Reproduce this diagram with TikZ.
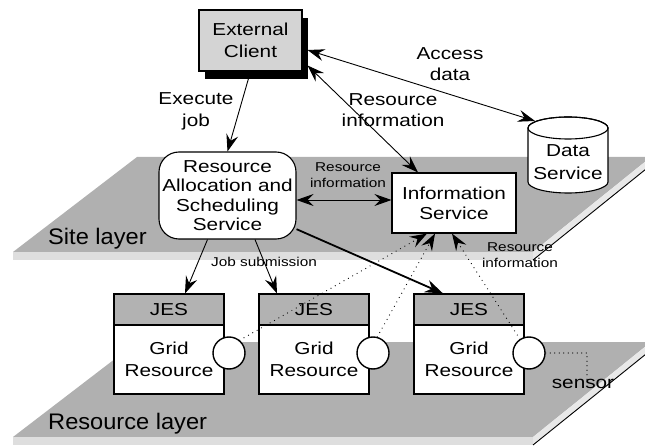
\documentclass[tikz,border=0pt]{standalone}
\usepackage{fontspec}
\setmainfont[FakeStretch=1.2]{Liberation Sans}
\newfontfamily\layerfont[FakeStretch=1.05]{Liberation Sans}
\usetikzlibrary{arrows.meta,shadows,calc}

\tikzset{
  big/.style={font=\fontsize{17.3}{21.7}\selectfont, align=center, inner sep=0pt},
  small/.style={font=\fontsize{12.8}{16.5}\selectfont, align=center, inner sep=0pt},
  layerlabel/.style={font=\layerfont\fontsize{22.5}{26}\selectfont, anchor=base west, inner sep=0pt},
  topface/.style={fill=black!31},
  frontface/.style={fill=black!13},
  sideface/.style={fill=black!9},
  edgeline/.style={line width=0.9pt},
  boxed/.style={draw, line width=1.1pt, inner sep=0pt, fill=white, big},
  jeshead/.style={draw, line width=1.1pt, inner sep=0pt, fill=black!30, big,
    minimum width=110pt, minimum height=31pt},
  jesbody/.style={draw, line width=1.1pt, inner sep=0pt, fill=white, big,
    minimum width=110pt, minimum height=69pt},
  sensorball/.style={draw, circle, line width=1.4pt, fill=white, minimum size=32pt, inner sep=0pt},
  tipS/.tip={Stealth[length=17pt,width=12pt,inset=6pt]},
  arr/.style={line width=0.9pt, -tipS},
  dualarr/.style={line width=0.9pt, tipS-tipS},
  heavyarr/.style={line width=1.8pt, -{Stealth[length=18pt,width=13pt,inset=6pt]}},
  dotarr/.style={line width=1.2pt, line cap=round, dash pattern=on 0pt off 5pt,
    -{Stealth[length=17pt,width=12pt,inset=6pt,sep=0pt]}},
  dotline/.style={line width=1.3pt, line cap=round, dash pattern=on 0pt off 4.5pt},
}

\begin{document}
\begin{tikzpicture}[x=1pt, y=-1pt]
  \clip (0,0) rectangle (645,446);

  % ---- site layer slab ----
  \fill[topface] (137,157) -- (651,157) -- (533,252) -- (13,252) -- cycle;
  \fill[frontface] (13,252) rectangle (533,260);
  \fill[sideface] (533,252) -- (651,157) -- (651,165) -- (533,260) -- cycle;
  \draw[edgeline] (533,260) -- (651,165);
  \node[layerlabel] (sitelbl) at (48,245) {Site layer};

  % ---- resource layer slab ----
  \fill[topface] (137,342) -- (651,342) -- (533,437) -- (13,437) -- cycle;
  \fill[frontface] (13,437) rectangle (533,445);
  \fill[sideface] (533,437) -- (651,342) -- (651,350) -- (533,445) -- cycle;
  \draw[edgeline] (533,445) -- (651,350);
  \node[layerlabel] (reslbl) at (48,429) {Resource layer};

  % ---- external client with drop shadow ----
  \node[draw, line width=1.1pt, fill=black!17, inner sep=0pt, big,
        minimum width=103pt, minimum height=61pt,
        drop shadow={shadow xshift=6pt, shadow yshift=-8pt, fill=black, opacity=1}]
        (client) at (250.5,40.5) {External\\Client};

  % ---- data service cylinder ----
  \filldraw[fill=white, line width=1.1pt]
    (528,128) -- (528,182) arc[start angle=180, end angle=360, x radius=40pt, y radius=11pt]
    -- (608,128) arc[start angle=0, end angle=180, x radius=40pt, y radius=11pt] -- cycle;
  \draw[line width=1.1pt] (568,128) ellipse[x radius=40pt, y radius=11pt];
  \node[font=\fontsize{17.3}{23}\selectfont, align=center, inner sep=0pt]
    (ds) at (568,162) {Data\\Service};
  \coordinate (dsin) at (535,121);

  % ---- site services ----
  \node[boxed, rounded corners=20pt, minimum width=137pt, minimum height=87pt,
        font=\fontsize{17.3}{19.3}\selectfont]
        (ras) at (227.5,195.5) {Resource\\Allocation and\\Scheduling\\Service};
  \node[boxed, minimum width=124pt, minimum height=60pt,
        font=\fontsize{17.3}{20}\selectfont]
        (info) at (454,203) {Information\\Service};

  % ---- grid resources with their job execution services ----
  \node[jeshead] (jes1) at (169,309.5) {JES};
  \node[jesbody] (gr1) at (169,359.5) {Grid\\Resource};
  \node[jeshead] (jes2) at (314,309.5) {JES};
  \node[jesbody] (gr2) at (314,359.5) {Grid\\Resource};
  \node[jeshead] (jes3) at (469,309.5) {JES};
  \node[jesbody] (gr3) at (469,359.5) {Grid\\Resource};

  % ---- connectors ----
  \draw[arr] (client.south) -- (ras.north);
  \node[big] (lblexec) at (196,111) {Execute\\job};

  \draw[dualarr] ([xshift=5pt,yshift=-9.5pt]client.east) -- (dsin);
  \node[big] (lblaccess) at (450,64) {Access\\data};

  \draw[dualarr] ([xshift=5pt,yshift=-25pt]client.east) -- ([xshift=-36pt]info.north);
  \node[big] (lblinfo) at (393,110) {Resource\\information};

  \draw[dualarr] ([yshift=-4.5pt]ras.east) -- ([yshift=-4.5pt]ras.east -| info.west);
  \node[small] (lblrasinfo) at (348,175) {Resource\\information};

  \draw[arr] ([xshift=-20pt]ras.south) -- ([xshift=16pt]jes1.north);
  \draw[arr] ([xshift=27.5pt]ras.south) -- ([xshift=-37pt]jes2.north);
  \draw[heavyarr] (ras.-26) -- ([xshift=-26pt]jes3.north);
  \node[small] (lbljob) at (264,262) {Job submission};

  % ---- sensors reporting to the information service ----
  \node[sensorball] (c1) at (229,353) {};
  \node[sensorball] (c2) at (373,353) {};
  \node[sensorball] (c3) at (529,353) {};

  \draw[dotarr] (c1.50) -- ([xshift=-27pt]info.south);
  \draw[dotarr] (c2.75) -- ([xshift=-19pt]info.south);
  \draw[dotarr] ([xshift=-9pt,yshift=-3pt]c3.north) -- ([xshift=-2pt]info.south);
  \node[small] (lblsens) at (520,255) {Resource\\information};

  \node[font=\fontsize{17.3}{20}\selectfont, inner sep=0pt] (sensor) at (583,384) {sensor};
  \draw[dotline] (c3.east) -| ([xshift=4pt,yshift=-2pt]sensor.north);
\end{tikzpicture}
\end{document}
